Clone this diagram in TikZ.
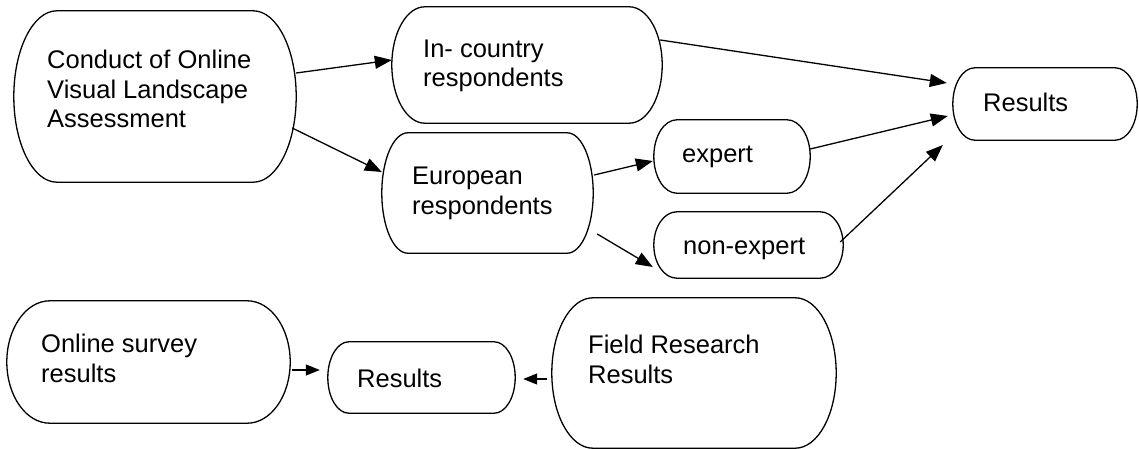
\documentclass[tikz,border=0pt]{standalone}
\usepackage{fontspec}
\setmainfont{Liberation Sans}
\usetikzlibrary{arrows.meta,calc}

% outline of a terminator-style box: straight top and bottom, half-ellipse ends
\newcommand\termoutline[2]{%
  \draw[boxline] let \p1=(#1.north west), \p2=(#1.south east), \n1={(\y1-\y2)/2} in
    ([xshift=#2]#1.north west) -- ([xshift=-#2]#1.north east)
    arc[start angle=90, end angle=-90, x radius=#2, y radius=\n1]
    -- ([xshift=#2]#1.south west)
    arc[start angle=270, end angle=90, x radius=#2, y radius=\n1] -- cycle;
}

\tikzset{
  boxline/.style={line width=1.3pt, line join=round},
  termbox/.style={rectangle, draw=none, inner sep=0pt},
  % texts are placed by the baseline of their last line
  label text/.style={anchor=base west, inner sep=0pt, align=left,
    font=\fontsize{25.5pt}{29.5pt}\selectfont},
  flow/.style={line width=1.3pt, -{Triangle[length=17pt, width=13pt]}},
  short flow/.style={line width=1.3pt, -{Triangle[length=14pt, width=11pt]}},
}

\begin{document}
\begin{tikzpicture}[x=1pt, y=-1pt]
\useasboundingbox (0,0) rectangle (1139,449);

% boxes
\node[termbox, minimum width=282pt, minimum height=171pt] (conduct)   at (155,96.5)  {};
\node[termbox, minimum width=270pt, minimum height=116pt] (incountry) at (527,65)    {};
\node[termbox, minimum width=211pt, minimum height=120pt] (european)  at (487.5,193) {};
\node[termbox, minimum width=156pt, minimum height=73pt]  (expert)    at (732,156.5) {};
\node[termbox, minimum width=189pt, minimum height=66pt]  (nonexpert) at (748.5,245) {};
\node[termbox, minimum width=184pt, minimum height=72pt]  (results)   at (1045,104)  {};
\node[termbox, minimum width=283pt, minimum height=122pt] (online)    at (148.5,362) {};
\node[termbox, minimum width=187pt, minimum height=71pt]  (resultsb)  at (421.5,377.5) {};
\node[termbox, minimum width=284pt, minimum height=150pt] (field)     at (694,373)   {};

\termoutline{conduct}{43pt}
\termoutline{incountry}{33pt}
\termoutline{european}{26pt}
\termoutline{expert}{23pt}
\termoutline{nonexpert}{23pt}
\termoutline{results}{22pt}
\termoutline{online}{43pt}
\termoutline{resultsb}{21pt}
\termoutline{field}{41pt}

% texts
\node[label text] (tconduct)   at (47,128)  {Conduct of Online\\Visual Landscape\\Assessment};
\node[label text] (tincountry) at (423,87)  {In- country\\respondents};
\node[label text] (teuropean)  at (412,214) {European\\respondents};
\node[label text] (texpert)    at (682,163) {expert};
\node[label text] (tnonexpert) at (683,254) {non-expert};
\node[label text] (tresults)   at (983,112) {Results};
\node[label text] (tonline)    at (41,382)  {Online survey\\results};
\node[label text] (tresultsb)  at (357,387) {Results};
\node[label text] (tfield)     at (588,383) {Field Research\\Results};

% connectors
\draw[flow] ([yshift=23.5pt]conduct.east) -- ([yshift=5pt]incountry.west);
\draw[flow] ([xshift=-4pt,yshift=-31.5pt]conduct.east) -- ([yshift=21pt]european.west);
\draw[flow] ([xshift=-2pt,yshift=25pt]incountry.east) -- ([xshift=-6pt,yshift=21pt]results.west);
\draw[flow] ([xshift=1pt,yshift=18pt]european.east) -- ([xshift=-1pt,yshift=-4.5pt]expert.west);
\draw[flow] ([xshift=4pt,yshift=-41pt]european.east) -- ([xshift=-1pt,yshift=-22pt]nonexpert.west);
\draw[flow] ([yshift=7.5pt]expert.east) -- ([xshift=-5pt,yshift=-12pt]results.west);
\draw[flow] ([xshift=-3pt,yshift=3pt]nonexpert.east) -- ([xshift=-10pt,yshift=-41pt]results.west);
\draw[short flow] ([xshift=2pt,yshift=-8pt]online.east) -- ([xshift=-8pt,yshift=7.5pt]resultsb.west);
\draw[short flow] ([xshift=-5pt,yshift=-6pt]field.west) -- ([xshift=8pt,yshift=-1.5pt]resultsb.east);
\end{tikzpicture}
\end{document}
